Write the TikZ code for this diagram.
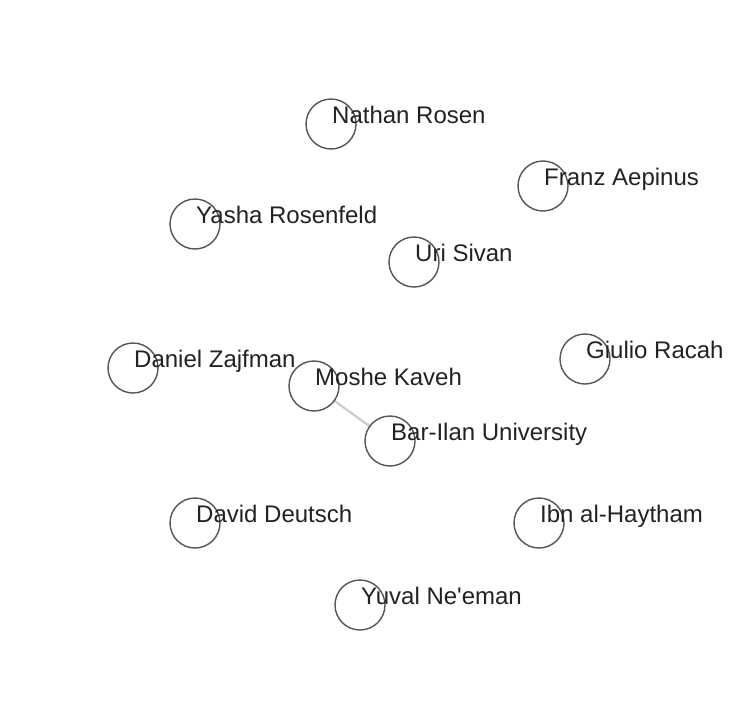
\documentclass[tikz,border=0pt]{standalone}
\usepackage{fontspec}
\setmainfont{Liberation Sans}[Ligatures=TeXOff]
\usepackage{tikz}
\usetikzlibrary{positioning}

\definecolor{ringgray}{HTML}{555555}
\definecolor{edgegray}{HTML}{CCCCCC}
\definecolor{textgray}{HTML}{222222}

\begin{document}
\begin{tikzpicture}[x=1pt, y=-1pt,
                person/.style={draw=ringgray, line width=1.4pt, circle, fill=white, minimum size=50pt, inner sep=0pt},
                link/.style={draw=edgegray, line width=2.2pt},
                namelabel/.style={anchor=base west, inner sep=0pt, xshift=1pt, yshift=0.5pt, text=textgray, font=\fontsize{24}{28}\selectfont}
            ]

            \useasboundingbox (0,0) rectangle (728,728);

            % Kanten
            \coordinate (kavehC) at (314,386);
            \coordinate (barilanC) at (390,441);
            \draw[link] (kavehC) -- (barilanC);

            % Knoten
            \node[person] (rosen) at (331,124) {};
            \node[person] (aepinus) at (543,186) {};
            \node[person] (rosenfeld) at (195,224) {};
            \node[person] (sivan) at (414,262) {};
            \node[person] (zajfman) at (133,368) {};
            \node[person] (racah) at (585,359) {};
            \node[person] (kaveh) at (kavehC) {};
            \node[person] (barilan) at (barilanC) {};
            \node[person] (deutsch) at (195,523) {};
            \node[person] (haytham) at (539,523) {};
            \node[person] (neeman) at (360,605) {};

            % Beschriftungen
            \node[namelabel] (rosenL) at (rosen.center) {Nathan Rosen};
            \node[namelabel] (aepinusL) at (aepinus.center) {Franz Aepinus};
            \node[namelabel] (rosenfeldL) at (rosenfeld.center) {Yasha Rosenfeld};
            \node[namelabel] (sivanL) at (sivan.center) {Uri Sivan};
            \node[namelabel] (zajfmanL) at (zajfman.center) {Daniel Zajfman};
            \node[namelabel] (racahL) at (racah.center) {Giulio Racah};
            \node[namelabel] (kavehL) at (kaveh.center) {Moshe Kaveh};
            \node[namelabel] (barilanL) at (barilan.center) {Bar-Ilan University};
            \node[namelabel] (deutschL) at (deutsch.center) {David Deutsch};
            \node[namelabel] (haythamL) at (haytham.center) {Ibn al-Haytham};
            \node[namelabel] (neemanL) at (neeman.center) {Yuval Ne'eman};

        \end{tikzpicture}
\end{document}
